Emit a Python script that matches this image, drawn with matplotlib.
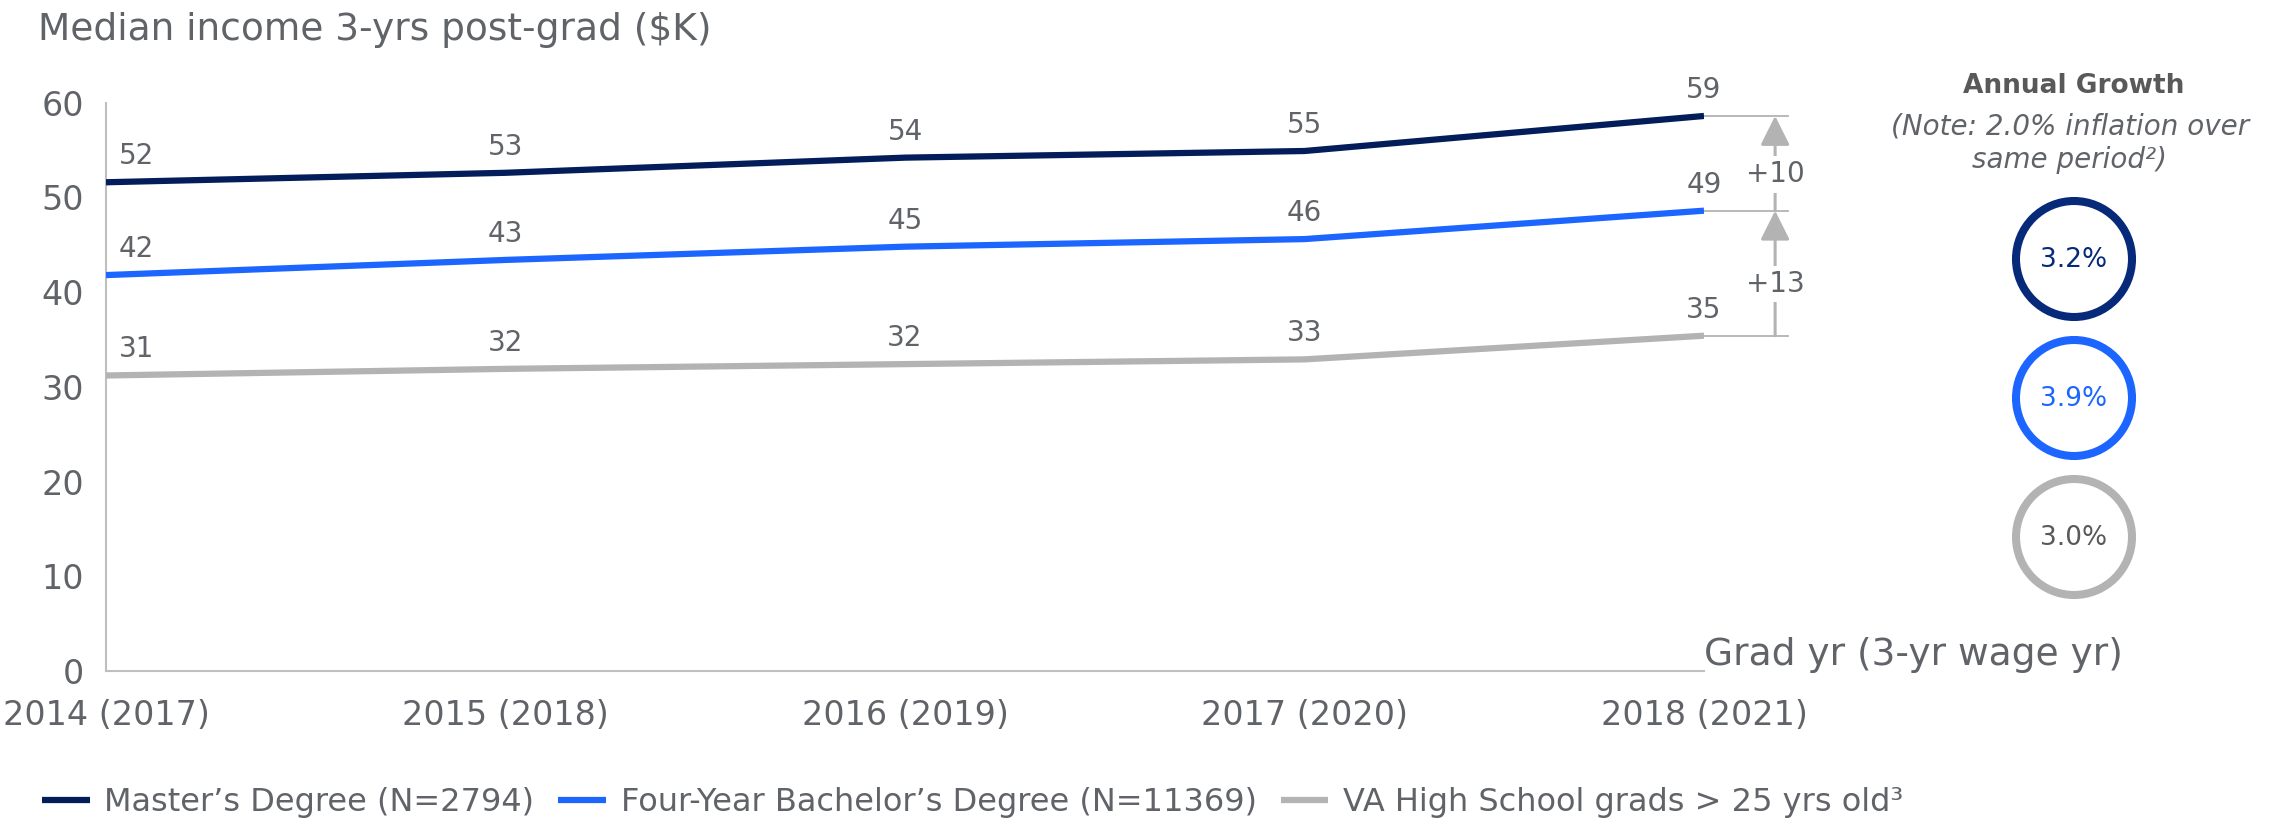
import numpy as np
import matplotlib
matplotlib.use('Agg')
import matplotlib.pyplot as plt
from matplotlib.patches import Circle

# data
grad_years = ['2014 (2017)', '2015 (2018)', '2016 (2019)', '2017 (2020)', '2018 (2021)']
masters = [51.6, 52.6, 54.2, 54.9, 58.6]
bachelors = [41.8, 43.4, 44.8, 45.6, 48.6]
high_school = [31.2, 31.9, 32.4, 32.9, 35.4]

series_labels = ['Master\u2019s Degree (N=2794)',
                 'Four-Year Bachelor\u2019s Degree (N=11369)',
                 'VA High School grads > 25 yrs old\u00b3']
annual_growth = ['3.2%', '3.9%', '3.0%']

NAVY = '#021d5a'
NAVY_RING = '#06297a'
BLUE = '#1c66ff'
GREY = '#b3b3b3'
TEXT = '#606368'
colors = [NAVY, BLUE, GREY]
ring_colors = [NAVY_RING, BLUE, GREY]
ring_text = [NAVY_RING, BLUE, '#595959']

W, H = 2293, 826
plt.rcParams['font.family'] = ['DejaVu Sans']

fig = plt.figure(figsize=(W / 100, H / 100), dpi=100)

# main axes (pixel box measured on the reference)
left, right, top, bottom = 106, 1704, 102.7, 671
ax = fig.add_axes([left / W, 1 - bottom / H, (right - left) / W, (bottom - top) / H])

x = np.arange(len(grad_years))
lines = []
for vals, c in zip([masters, bachelors, high_school], colors):
    ln, = ax.plot(x, vals, color=c, lw=4.5, solid_capstyle='butt', zorder=3)
    lines.append(ln)
    for i, v in enumerate(vals):
        dx = 22 if i == 0 else 0
        ax.annotate(f'{v:.0f}', xy=(x[i], v), xytext=(dx, 13), textcoords='offset points',
                    ha='center', va='baseline', fontsize=20, color=TEXT)

ax.set_xlim(0, len(grad_years) - 1)
ax.set_ylim(0, 60)
ax.set_yticks(np.arange(0, 61, 10))
ax.set_xticks(x)
ax.set_xticklabels(grad_years)
ax.tick_params(axis='both', length=0, labelsize=24, labelcolor=TEXT)
ax.tick_params(axis='y', pad=16)
ax.tick_params(axis='x', pad=20)
for s in ['top', 'right']:
    ax.spines[s].set_visible(False)
for s in ['left', 'bottom']:
    ax.spines[s].set_color('#bfbfbf')
    ax.spines[s].set_linewidth(1.5)

ax.annotate('Grad yr (3-yr wage yr)', xy=(x[-1], 0), xytext=(0, 4), textcoords='offset points',
            ha='left', va='baseline', fontsize=27, color=TEXT, annotation_clip=False)

# gap arrows on the right
ends = [masters[-1], bachelors[-1], high_school[-1]]
x_end = x[-1]
x_ref = x_end + 0.21
x_arr = x_end + 0.178
for v in ends:
    ax.plot([x_end, x_ref], [v, v], color=GREY, lw=1.3, clip_on=False, zorder=2)
for hi, lo in zip(ends[:-1], ends[1:]):
    ax.annotate('', xy=(x_arr, hi), xytext=(x_arr, lo),
                arrowprops=dict(arrowstyle='-|>,head_length=0.9,head_width=0.45',
                                color=GREY, lw=2.2, shrinkA=0, shrinkB=0, mutation_scale=20),
                annotation_clip=False)
    ax.annotate(f'+{hi - lo:.0f}', xy=(x_arr, (hi + lo) / 2), xytext=(0, -8),
                textcoords='offset points', ha='center', va='center', fontsize=20,
                color=TEXT, annotation_clip=False,
                bbox=dict(fc='white', ec='none', pad=3))

# overlay in pixel units for title and growth circles
ov = fig.add_axes([0, 0, 1, 1], zorder=-1)
ov.set_xlim(0, W)
ov.set_ylim(H, 0)
ov.axis('off')

ov.text(38, 40, 'Median income 3-yrs post-grad ($K)', ha='left', va='baseline',
        fontsize=27, color=TEXT)

cx = 2074
ov.text(cx, 93, 'Annual Growth', ha='center', va='baseline', fontsize=19,
        fontweight='bold', color='#595959')
ov.text(cx - 4, 135, '(Note: 2.0% inflation over', ha='center', va='baseline', fontsize=20,
        style='italic', color=TEXT)
ov.text(cx - 4, 168, 'same period\u00b2)', ha='center', va='baseline', fontsize=20,
        style='italic', color=TEXT)

for i, g in enumerate(annual_growth):
    cy = 259 + i * 139
    ov.add_patch(Circle((cx, cy), 58, fill=False, ec=ring_colors[i], lw=5.8))
    ov.text(cx, cy + 1, g, ha='center', va='center', fontsize=19, color=ring_text[i])

fig.legend(lines, series_labels, loc='center left', bbox_to_anchor=(42 / W, 1 - 803 / H),
           ncol=3, frameon=False, fontsize=23, handlelength=1.5, handletextpad=0.45,
           columnspacing=0.75, borderpad=0, borderaxespad=0, labelcolor=TEXT)

fig.savefig('out.png', dpi=100, facecolor='white')
